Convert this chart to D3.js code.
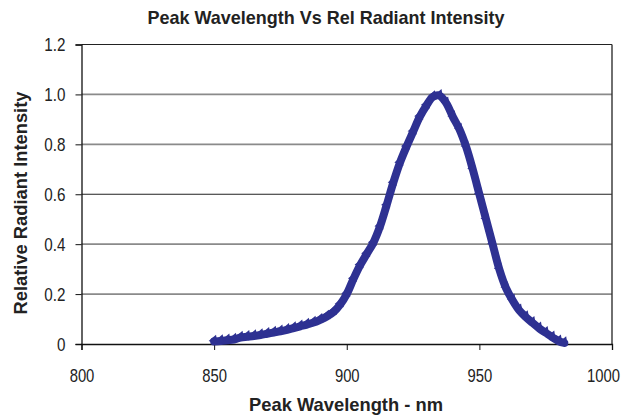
<!DOCTYPE html>
<html><head><meta charset="utf-8">
<script src="https://cdn.jsdelivr.net/npm/d3@7"></script>
<style>
body{margin:0;background:#fff;}
text{font-family:"Liberation Sans",Arial,sans-serif;}
</style></head>
<body><svg id="c" width="626" height="418"></svg>
<script>
const wavelengths = [850,852.5,855,857.5,860,862.5,865,867.5,870,872.5,875,877.5,880,882.5,885,887.5,890,892.5,895,897.5,900,902.5,905,907.5,910,912.5,915,917.5,920,922.5,925,927.5,930,932.5,935,937.5,940,942.5,945,947.5,950,952.5,955,957.5,960,962.5,965,967.5,970,972.5,975,977.5,980,982];
const intensity = [0.01,0.012,0.015,0.018,0.026,0.029,0.032,0.036,0.041,0.046,0.051,0.057,0.064,0.071,0.078,0.086,0.097,0.11,0.128,0.158,0.2,0.26,0.315,0.36,0.405,0.47,0.555,0.645,0.725,0.79,0.85,0.91,0.955,0.99,0.995,0.965,0.91,0.86,0.79,0.7,0.6,0.5,0.4,0.3,0.225,0.175,0.135,0.108,0.085,0.063,0.045,0.027,0.011,0.004];
const xTicks = [800,850,900,950,1000];
const yTicks = [0,0.2,0.4,0.6,0.8,1.0,1.2];
const yTickLabels = ["0","0.2","0.4","0.6","0.8","1.0","1.2"];

const svg = d3.select("#c");
const x = d3.scaleLinear().domain([800,1000]).range([81.5,612]);
const y = d3.scaleLinear().domain([0,1.2]).range([344,44.5]);

function squeeze(sel, k){
  sel.each(function(){
    const len = this.getComputedTextLength();
    d3.select(this).attr("textLength", len*k).attr("lengthAdjust","spacingAndGlyphs");
  });
}

// gridlines
svg.append("g").selectAll("line").data(yTicks.filter(d=>d>0 && d<1.2)).join("line")
  .attr("x1",x(800)).attr("x2",x(1000)).attr("y1",d=>y(d)).attr("y2",d=>y(d))
  .attr("stroke",d=>d===0.6?"#222":"#8a8a8a").attr("stroke-width",d=>d===0.6?1.2:1.8);
// top and right border
svg.append("line").attr("x1",x(800)).attr("x2",x(1000)).attr("y1",y(1.2)).attr("y2",y(1.2)).attr("stroke","#222").attr("stroke-width",1.2);
svg.append("line").attr("x1",x(1000)).attr("x2",x(1000)).attr("y1",y(1.2)).attr("y2",y(0)).attr("stroke","#333").attr("stroke-width",1.4);

// axes
const yAxis = d3.axisLeft(y).tickValues(yTicks).tickFormat((d,i)=>yTickLabels[i]).tickSize(6).tickPadding(10);
const gy = svg.append("g").attr("transform",`translate(${x(800)},0)`).call(yAxis);
gy.select(".domain").attr("stroke","#111").attr("stroke-width",1.3);
gy.selectAll(".tick line").attr("stroke","#111");
gy.selectAll("text").attr("font-size",19).attr("fill","#222").style("font-family",'"Liberation Sans",Arial,sans-serif').call(squeeze,0.8);

const xAxis = d3.axisBottom(x).tickValues(xTicks).tickFormat(d3.format("d")).tickSize(6).tickPadding(19);
const gx = svg.append("g").attr("transform",`translate(0,${y(0)})`).call(xAxis);
gx.select(".domain").attr("stroke","#111").attr("stroke-width",1.3);
gx.selectAll(".tick line").attr("stroke","#111");
gx.selectAll("text").attr("font-size",19).attr("fill","#222").style("font-family",'"Liberation Sans",Arial,sans-serif').call(squeeze,0.78);
gx.selectAll(".tick text").filter(d=>d===1000).attr("x",-9);

// curve
const data = wavelengths.map((w,i)=>({w, v:intensity[i]}));
const col = "#2e3192";
svg.append("path").datum(data)
  .attr("d", d3.line().x(d=>x(d.w)).y(d=>y(d.v)).curve(d3.curveCatmullRom))
  .attr("fill","none").attr("stroke",col).attr("stroke-width",8).attr("stroke-linejoin","round").attr("stroke-linecap","round");
svg.append("g").selectAll("path").data(data).join("path")
  .attr("d", d3.symbol().type(d3.symbolTriangle).size(40))
  .attr("transform", d=>`translate(${x(d.w)},${y(d.v)-1.5}) rotate(20)`)
  .attr("fill",col);

// titles
svg.append("text").attr("x",326).attr("y",24).attr("text-anchor","middle")
  .attr("font-size",19).attr("font-weight","bold").attr("fill","#222")
  .attr("textLength",357).attr("lengthAdjust","spacingAndGlyphs")
  .text("Peak Wavelength Vs Rel Radiant Intensity");
svg.append("text").attr("x",346).attr("y",411).attr("text-anchor","middle")
  .attr("font-size",19).attr("font-weight","bold").attr("fill","#222")
  .attr("textLength",194).attr("lengthAdjust","spacingAndGlyphs")
  .text("Peak Wavelength - nm");
svg.append("text").attr("transform","translate(27,203) rotate(-90)").attr("text-anchor","middle")
  .attr("font-size",19).attr("font-weight","bold").attr("fill","#222")
  .attr("textLength",223).attr("lengthAdjust","spacingAndGlyphs")
  .text("Relative Radiant Intensity");
</script></body></html>
